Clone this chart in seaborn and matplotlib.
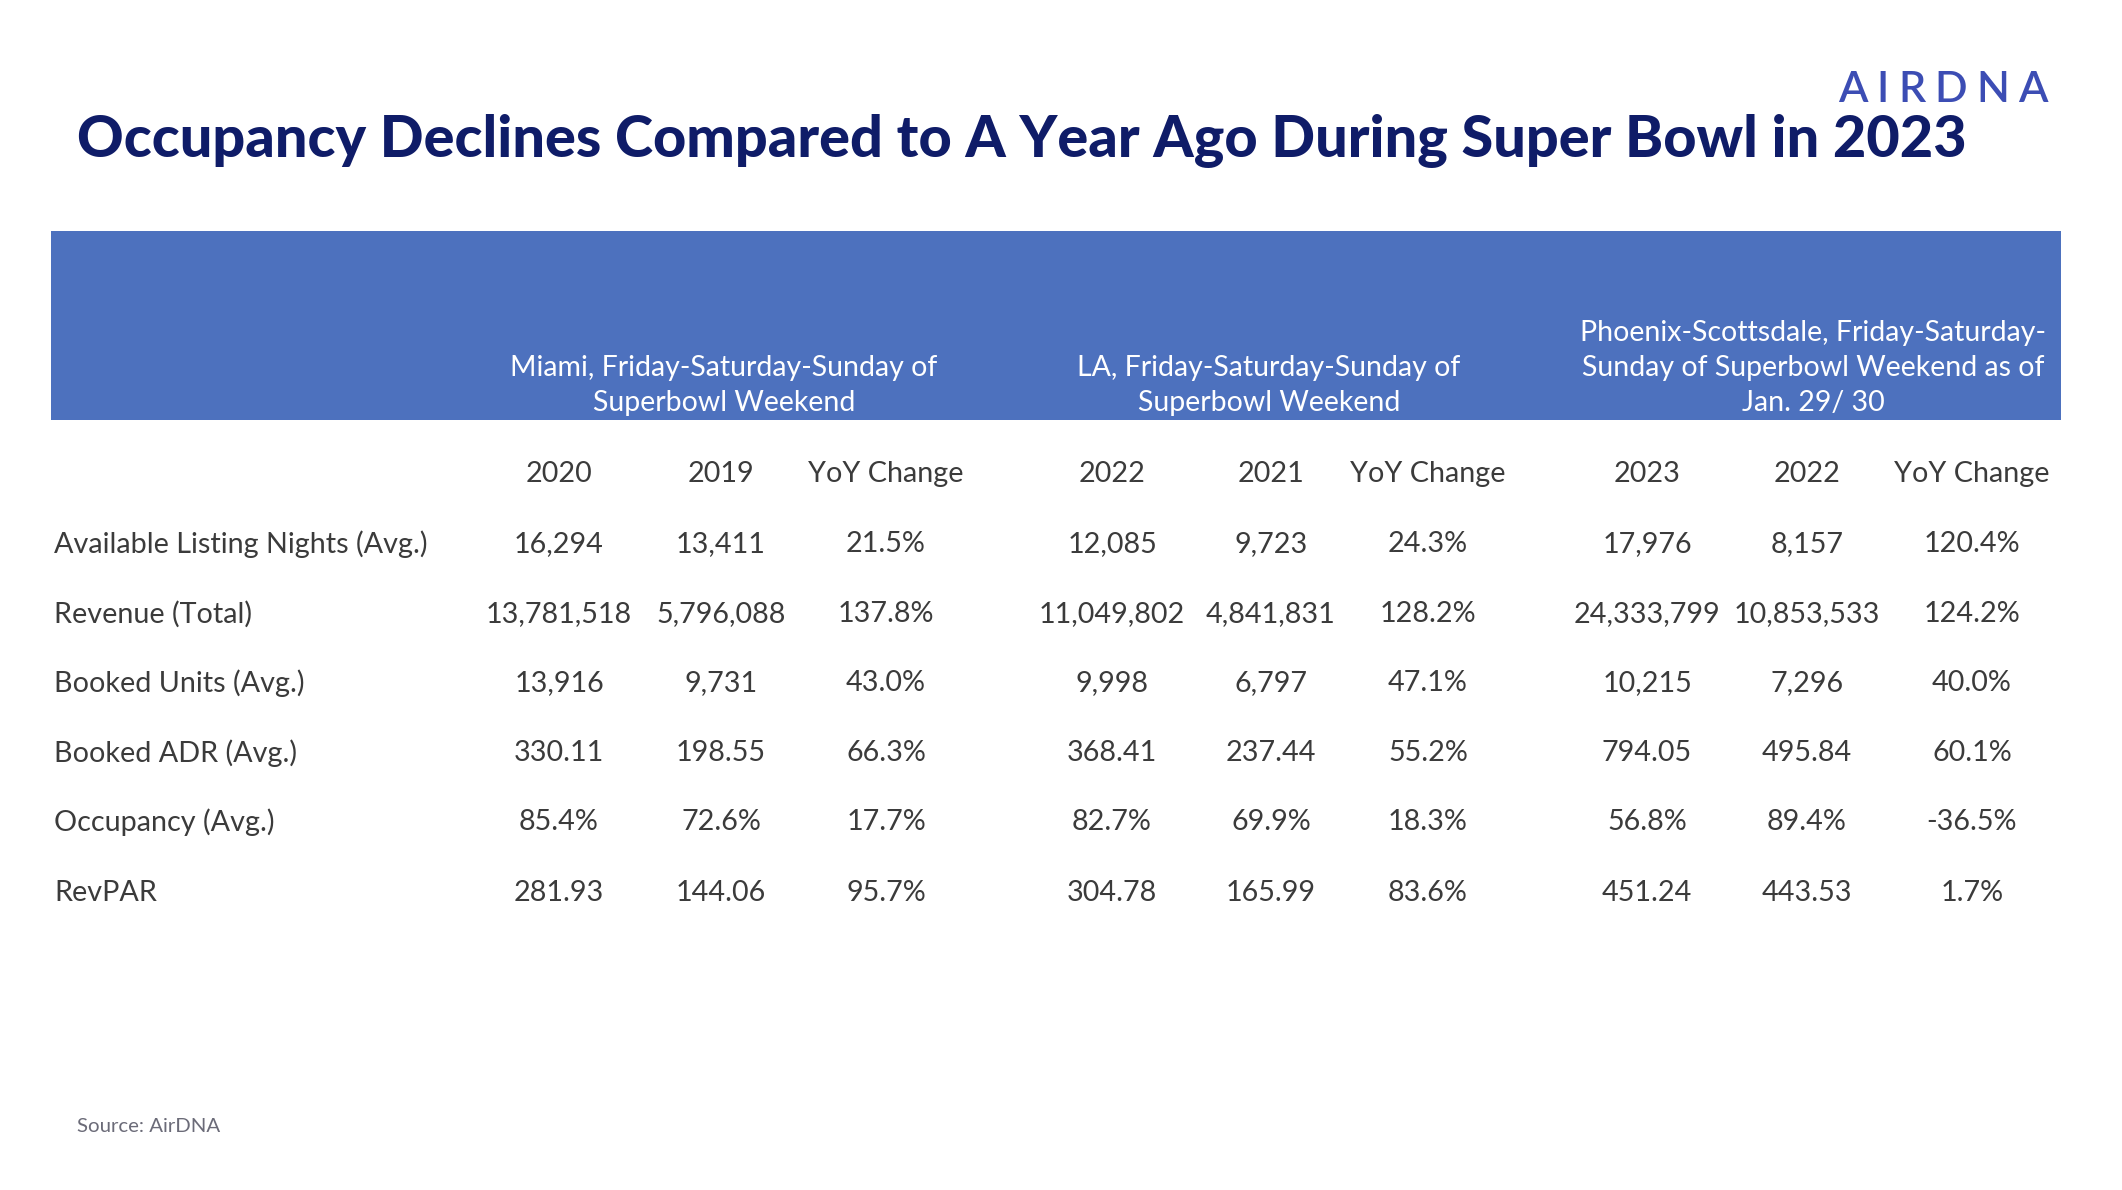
import matplotlib
matplotlib.use("Agg")
import matplotlib.pyplot as plt
import seaborn as sns
from matplotlib.patches import Rectangle

# ---------------- data ----------------
title = "Occupancy Declines Compared to A Year Ago During Super Bowl in 2023"
groups = [
    "Miami, Friday-Saturday-Sunday of\nSuperbowl Weekend",
    "LA, Friday-Saturday-Sunday of\nSuperbowl Weekend",
    "Phoenix-Scottsdale, Friday-Saturday-\nSunday of Superbowl Weekend as of\nJan. 29/ 30",
]
col_labels = ["2020", "2019", "YoY Change",
              "2022", "2021", "YoY Change",
              "2023", "2022", "YoY Change"]
row_labels = ["Available Listing Nights (Avg.)", "Revenue (Total)", "Booked Units (Avg.)",
              "Booked ADR (Avg.)", "Occupancy (Avg.)", "RevPAR"]
miami = [["16,294", "13,411", "21.5%"],
         ["13,781,518", "5,796,088", "137.8%"],
         ["13,916", "9,731", "43.0%"],
         ["330.11", "198.55", "66.3%"],
         ["85.4%", "72.6%", "17.7%"],
         ["281.93", "144.06", "95.7%"]]
la = [["12,085", "9,723", "24.3%"],
      ["11,049,802", "4,841,831", "128.2%"],
      ["9,998", "6,797", "47.1%"],
      ["368.41", "237.44", "55.2%"],
      ["82.7%", "69.9%", "18.3%"],
      ["304.78", "165.99", "83.6%"]]
phoenix = [["17,976", "8,157", "120.4%"],
           ["24,333,799", "10,853,533", "124.2%"],
           ["10,215", "7,296", "40.0%"],
           ["794.05", "495.84", "60.1%"],
           ["56.8%", "89.4%", "-36.5%"],
           ["451.24", "443.53", "1.7%"]]
source = "Source: AirDNA"
logo = "AIRDNA"

# ---------------- layout / style ----------------
W, H = 2122, 1190
DPI = 100
sns.set_theme(style="white")
plt.rcParams["font.family"] = ["Lato", "DejaVu Sans"]

NAVY = "#0f1c68"
BAND = "#4d71be"
TEXT = "#3b3b3b"

fig = plt.figure(figsize=(W / DPI, H / DPI), dpi=DPI)
fig.patch.set_facecolor("white")
ax = fig.add_axes([0, 0, 1, 1])
ax.set_xlim(0, W)
ax.set_ylim(H, 0)
ax.axis("off")
renderer = fig.canvas.get_renderer()


def width(txt, size, **kw):
    t = ax.text(0, 0, txt, fontsize=size, **kw)
    w = t.get_window_extent(renderer).width
    t.remove()
    return w


def fit(txt, target_w, base=20, **kw):
    return base * target_w / width(txt, base, **kw)


# title
tsize = fit(title, 1892, fontweight="black")
ax.text(77, 141, title, fontsize=tsize, fontweight="black", color=NAVY,
        ha="left", va="center")

# logo (evenly spaced letters)
lsize = 31
lw = [width(ch, lsize, fontweight="semibold") for ch in logo]
gap = (210 - sum(lw)) / (len(logo) - 1)
x = 1838
for ch, w in zip(logo, lw):
    ax.text(x, 90, ch, fontsize=lsize, fontweight="semibold",
            color="#3c4db4", ha="left", va="center")
    x += w + gap

# header band
ax.add_patch(Rectangle((51, 231), 2010, 189, facecolor=BAND, edgecolor="none"))

bsize = fit(row_labels[0], 374)
hsize = fit("Miami, Friday-Saturday-Sunday of", 429)
hsize = min(hsize, bsize)

group_x = [724, 1269, 1813]
for gx, g in zip(group_x, groups):
    ax.text(gx, 416, g, fontsize=hsize, color="white", ha="center",
            va="bottom", linespacing=1.42)

col_x = [559, 721, 886, 1112, 1271, 1428, 1647, 1807, 1972]
header_y = 474
for cx, lab in zip(col_x, col_labels):
    ax.text(cx, header_y, lab, fontsize=bsize, color=TEXT, ha="center", va="center")

row_y = [544, 614, 683, 753, 822, 893]
for r, (ry, lab) in enumerate(zip(row_y, row_labels)):
    ax.text(54, ry, lab, fontsize=bsize, color=TEXT, ha="left", va="center")
    vals = miami[r] + la[r] + phoenix[r]
    for cx, v in zip(col_x, vals):
        ax.text(cx, ry, v, fontsize=bsize, color=TEXT, ha="center", va="center")

ssize = fit(source, 143)
ax.text(77, 1127, source, fontsize=ssize, color="#6b6b78", ha="left", va="center")

fig.savefig("out.png", dpi=DPI, facecolor="white")
